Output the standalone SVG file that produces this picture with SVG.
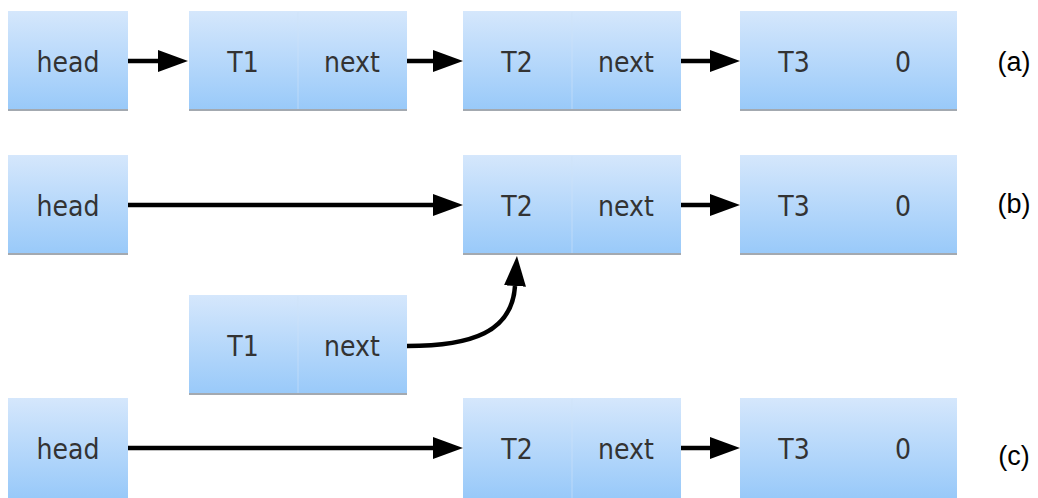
<svg xmlns="http://www.w3.org/2000/svg" width="1038" height="498" viewBox="0 0 1038 498">
<defs>
<linearGradient id="g" x1="0" y1="0" x2="0" y2="1">
<stop offset="0" stop-color="#d5e7fc"/>
<stop offset="1" stop-color="#98c9f9"/>
</linearGradient>
<marker id="ah" markerUnits="userSpaceOnUse" markerWidth="30" markerHeight="22" refX="0" refY="11" orient="auto" viewBox="0 0 30 22">
<path d="M0,0 L30,11 L0,22 Z" fill="#000"/>
</marker>
<style>
.box{fill:url(#g);}
.sh{fill:#a3a9b0;}
.div{stroke:#cfe3f9;stroke-width:1;opacity:0.6;}
.t{font-family:"DejaVu Sans Condensed","DejaVu Sans",sans-serif;font-stretch:condensed;font-size:28px;fill:#333;text-anchor:middle;}
.lab{font-family:"Liberation Sans",Arial,sans-serif;font-size:27px;fill:#000;text-anchor:middle;}
.c{fill:none;stroke:#000;stroke-width:4.5;marker-end:url(#ah);}
</style>
</defs>
<rect width="1038" height="498" fill="#fff"/>

<g id="a-head">
<rect class="box" x="8" y="11" width="120" height="100"/><rect class="sh" x="8" y="109" width="120" height="2"/>
<text class="t" x="68" y="72">head</text>
</g>
<g id="a-T1">
<rect class="box" x="189" y="11" width="218" height="100"/><rect class="sh" x="189" y="109" width="218" height="2"/>
<line class="div" x1="298" y1="12" x2="298" y2="109"/>
<text class="t" x="243" y="72">T1</text><text class="t" x="352" y="72">next</text>
</g>
<g id="a-T2">
<rect class="box" x="463" y="11" width="218" height="100"/><rect class="sh" x="463" y="109" width="218" height="2"/>
<line class="div" x1="572" y1="12" x2="572" y2="109"/>
<text class="t" x="517" y="72">T2</text><text class="t" x="626" y="72">next</text>
</g>
<g id="a-T3">
<rect class="box" x="740" y="11" width="217" height="100"/><rect class="sh" x="740" y="109" width="217" height="2"/>
<text class="t" x="794" y="72">T3</text><text class="t" x="903" y="72">0</text>
</g>
<text class="lab" x="1014" y="71">(a)</text>

<g id="b-head">
<rect class="box" x="8" y="155" width="120" height="100"/><rect class="sh" x="8" y="253" width="120" height="2"/>
<text class="t" x="68" y="216">head</text>
</g>
<g id="b-T2">
<rect class="box" x="463" y="155" width="218" height="100"/><rect class="sh" x="463" y="253" width="218" height="2"/>
<line class="div" x1="572" y1="156" x2="572" y2="253"/>
<text class="t" x="517" y="216">T2</text><text class="t" x="626" y="216">next</text>
</g>
<g id="b-T3">
<rect class="box" x="740" y="155" width="217" height="100"/><rect class="sh" x="740" y="253" width="217" height="2"/>
<text class="t" x="794" y="216">T3</text><text class="t" x="903" y="216">0</text>
</g>
<g id="b-T1">
<rect class="box" x="189" y="295" width="218" height="100"/><rect class="sh" x="189" y="393" width="218" height="2"/>
<line class="div" x1="298" y1="296" x2="298" y2="393"/>
<text class="t" x="243" y="356">T1</text><text class="t" x="352" y="356">next</text>
</g>
<text class="lab" x="1014" y="213">(b)</text>

<g id="c-head">
<rect class="box" x="8" y="398" width="120" height="100"/>
<text class="t" x="68" y="459">head</text>
</g>
<g id="c-T2">
<rect class="box" x="463" y="398" width="218" height="100"/>
<line class="div" x1="572" y1="399" x2="572" y2="498"/>
<text class="t" x="517" y="459">T2</text><text class="t" x="626" y="459">next</text>
</g>
<g id="c-T3">
<rect class="box" x="740" y="398" width="217" height="100"/>
<text class="t" x="794" y="459">T3</text><text class="t" x="903" y="459">0</text>
</g>
<text class="lab" x="1014" y="465">(c)</text>

<g id="connectors">
<path class="c" d="M128,61 H158"/>
<path class="c" d="M407,61 H433"/>
<path class="c" d="M681,61 H710"/>
<path class="c" d="M128,205 H433"/>
<path class="c" d="M681,205 H710"/>
<path class="c" d="M407,346 C472,346 512,332 515,286"/>
<path class="c" d="M128,448 H433"/>
<path class="c" d="M681,448 H710"/>
</g>
</svg>
